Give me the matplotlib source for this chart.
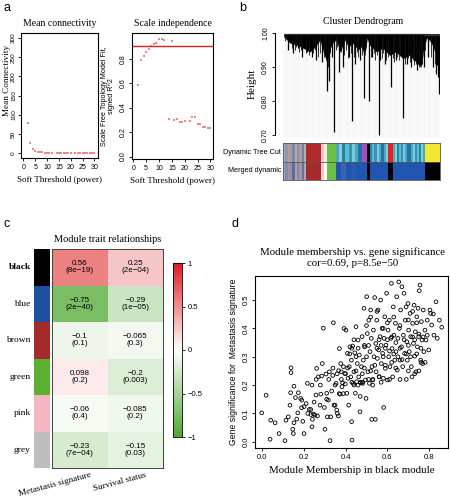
import numpy as np
import matplotlib
matplotlib.use('Agg')
import matplotlib.pyplot as plt
from matplotlib.colors import LinearSegmentedColormap
import matplotlib.transforms as mtransforms

plt.rcParams['font.family'] = ['Liberation Sans', 'DejaVu Sans']
SERIF = ['Liberation Serif', 'DejaVu Serif']

# ---- a: soft threshold ----
powers = [2, 3, 4, 5, 6, 7, 8, 9, 10, 11, 12, 14, 15, 16, 17, 18, 19, 20,
          22, 23, 24, 25, 26, 27, 28, 29, 30]
sft_r2 = [0.585, 0.79, 0.82, 0.855, 0.88, 0.90, 0.92, 0.93, 0.965, 0.96, 0.95,
          0.31, 0.945, 0.30, 0.31, 0.28, 0.28, 0.29, 0.29, 0.325, 0.325,
          0.27, 0.27, 0.24, 0.24, 0.235, 0.235]
mean_k = [78, 26, 11, 6, 4, 3, 2.5, 2, 1.8, 1.6, 1.5, 1.3, 1.2, 1.1, 1.0, 1.0,
          0.9, 0.9, 0.8, 0.8, 0.7, 0.7, 0.7, 0.6, 0.6, 0.6, 0.5]
r2_cut = 0.9

# ---- b: dendrogram (leaf position as fraction of width) ----
mass_x = [0.0, 0.021, 0.043, 0.085, 0.128, 0.17, 0.202, 0.234, 0.255, 0.277,
          0.298, 0.319, 0.34, 0.362, 0.394, 0.415, 0.447, 0.479, 0.5, 0.521,
          0.536, 0.553, 0.596, 0.638, 0.681, 0.723, 0.766, 0.809, 0.851,
          0.883, 0.904, 0.919, 0.936, 0.957, 0.979, 1.0]
mass_depth = [0.99, 0.98, 0.97, 0.965, 0.955, 0.945, 0.96, 0.98, 0.945, 0.915,
              0.955, 0.975, 0.98, 0.945, 0.98, 0.96, 0.97, 0.95, 0.96,
              0.935, 0.985, 0.965, 0.945, 0.955, 0.935, 0.945, 0.925, 0.935,
              0.915, 0.90, 0.965, 0.985, 0.98, 0.965, 0.935, 0.915]
drop_x = [0.277, 0.294, 0.326, 0.355, 0.436, 0.517, 0.549, 0.613, 0.689,
          0.766, 0.996, 0.03, 0.06, 0.09, 0.12, 0.15, 0.18, 0.21, 0.245,
          0.31, 0.38, 0.42, 0.46, 0.49, 0.57, 0.62, 0.65, 0.72, 0.79, 0.82,
          0.86, 0.90, 0.93, 0.96, 0.98, 0.985, 0.99]
drop_h = [0.83, 0.86, 0.71, 0.885, 0.74, 0.81, 0.80, 0.70, 0.84, 0.75, 0.82,
          0.95, 0.94, 0.955, 0.93, 0.945, 0.93, 0.92, 0.915, 0.93, 0.90,
          0.93, 0.91, 0.92, 0.93, 0.92, 0.91, 0.92, 0.91, 0.90, 0.89, 0.90,
          0.93, 0.90, 0.88, 0.905, 0.87]
twig_x = [0.01, 0.025, 0.05, 0.07, 0.08, 0.1, 0.11, 0.14, 0.16, 0.19, 0.2,
          0.22, 0.23, 0.26, 0.27, 0.285, 0.3, 0.335, 0.345, 0.37, 0.39, 0.4,
          0.41, 0.43, 0.45, 0.47, 0.48, 0.505, 0.53, 0.56, 0.58, 0.59, 0.6,
          0.61, 0.63, 0.64, 0.66, 0.67, 0.7, 0.71, 0.73, 0.74, 0.75, 0.78,
          0.8, 0.81, 0.83, 0.84, 0.85, 0.87, 0.88, 0.89, 0.91, 0.95, 0.97]
twig_h = [0.975, 0.96, 0.955, 0.95, 0.96, 0.945, 0.95, 0.94, 0.935, 0.94,
          0.95, 0.93, 0.94, 0.93, 0.95, 0.9, 0.94, 0.95, 0.96, 0.945, 0.935,
          0.95, 0.925, 0.94, 0.93, 0.945, 0.93, 0.935, 0.96, 0.93, 0.94,
          0.92, 0.935, 0.93, 0.925, 0.94, 0.92, 0.93, 0.925, 0.915, 0.93,
          0.92, 0.935, 0.91, 0.925, 0.915, 0.92, 0.905, 0.91, 0.9, 0.92,
          0.91, 0.95, 0.93, 0.91]

turq = ['#4aa8c0', '#7fd0d0', '#2a80b0', '#5ac0c8', '#3a90b8', '#80c8d8',
        '#40b0c0', '#2a70a8']
mixed = ['#a8a8b8', '#8f96b0', '#b89a8a', '#9a9aa8', '#7b86a8', '#c0a898',
         '#9090a0', '#a0a0b0', '#8a7a90', '#b0b0b8']
mixed2 = ['#a0a4b8', '#7f8ab0', '#a89090', '#8a90b0', '#5b6aa0', '#b0a0a0',
          '#8088a8', '#9898b0', '#7a6a88', '#a8a8b8']
dyn_regions = [(0.0, 0.149, mixed), (0.149, 0.245, ['#b02a2a']),
               (0.245, 0.283, ['#f0c4c8', '#f4eaea']), (0.283, 0.336, ['#6cc04a']),
               (0.336, 0.5, turq), (0.5, 0.532, ['#a050c0']),
               (0.532, 0.553, ['#000000']), (0.553, 0.67, turq[2:] + turq[:2]),
               (0.67, 0.702, ['#e82020']), (0.702, 0.904, turq + turq[::-1]),
               (0.904, 1.0, ['#f2e832'])]
merged_regions = [(0.0, 0.149, mixed2), (0.149, 0.245, ['#a52a2a']),
                  (0.245, 0.283, ['#f0c4c8', '#ffffff']), (0.283, 0.336, ['#6cc04a']),
                  (0.336, 0.5, ['#2255b0', '#3a64b0', '#2255b0', '#2a5ab0', '#2255b0']),
                  (0.5, 0.532, ['#2255b0']), (0.532, 0.553, ['#000000']),
                  (0.553, 0.67, ['#2255b0']), (0.67, 0.702, ['#000000']),
                  (0.702, 0.904, ['#2255b0']), (0.904, 1.0, ['#000000'])]

# ---- c: module-trait heatmap ----
modules = ['black', 'blue', 'brown', 'green', 'pink', 'grey']
module_cols = ['#000000', '#1f4f9f', '#a52a2a', '#5cb030', '#f4b6c2', '#bebebe']
traits = ['Metastasis signature', 'Survival status']
cor_vals = [[0.56, 0.25], [-0.75, -0.29], [-0.1, -0.065], [0.098, -0.2],
            [-0.06, -0.085], [-0.23, -0.15]]
cor_labels = [['0.56', '0.25'], ['−0.75', '−0.29'], ['−0.1', '−0.065'],
              ['0.098', '−0.2'], ['−0.06', '−0.085'], ['−0.23', '−0.15']]
p_labels = [['8e−19', '2e−04'], ['2e−40', '1e−05'], ['0.1', '0.3'],
            ['0.2', '0.003'], ['0.4', '0.2'], ['7e−04', '0.03']]

# ---- d: module membership vs gene significance ----
mm = [0.0, 0.021, 0.043, 0.04, 0.064, 0.083, 0.111, 0.116, 0.127, 0.135, 0.138,
      0.14, 0.14, 0.148, 0.151, 0.154, 0.154, 0.161, 0.167, 0.172, 0.175, 0.186,
      0.191, 0.196, 0.202, 0.202, 0.212, 0.218, 0.227, 0.234, 0.235, 0.24,
      0.242, 0.247, 0.254, 0.259, 0.262, 0.266, 0.27, 0.278, 0.282, 0.286,
      0.289, 0.294, 0.299, 0.302, 0.307, 0.31, 0.313, 0.318, 0.323, 0.326,
      0.329, 0.334, 0.339, 0.342, 0.345, 0.35, 0.355, 0.358, 0.361, 0.366,
      0.367, 0.371, 0.374, 0.377, 0.38, 0.383, 0.386, 0.39, 0.393, 0.396,
      0.399, 0.402, 0.406, 0.409, 0.412, 0.415, 0.418, 0.421, 0.425, 0.428,
      0.429, 0.431, 0.434, 0.437, 0.44, 0.444, 0.447, 0.45, 0.453, 0.456,
      0.46, 0.463, 0.466, 0.469, 0.472, 0.476, 0.479, 0.482, 0.485, 0.488,
      0.491, 0.495, 0.498, 0.501, 0.504, 0.507, 0.511, 0.514, 0.517, 0.52,
      0.523, 0.525, 0.526, 0.53, 0.533, 0.536, 0.539, 0.542, 0.544, 0.546,
      0.549, 0.552, 0.555, 0.558, 0.561, 0.565, 0.568, 0.571, 0.574, 0.577,
      0.581, 0.582, 0.584, 0.587, 0.59, 0.593, 0.596, 0.6, 0.603, 0.606,
      0.609, 0.612, 0.616, 0.619, 0.622, 0.625, 0.628, 0.631, 0.635, 0.638,
      0.641, 0.644, 0.647, 0.65, 0.654, 0.657, 0.66, 0.663, 0.667, 0.669,
      0.673, 0.676, 0.679, 0.682, 0.685, 0.689, 0.692, 0.695, 0.698, 0.701,
      0.704, 0.708, 0.711, 0.714, 0.717, 0.72, 0.724, 0.727, 0.73, 0.733,
      0.736, 0.74, 0.743, 0.746, 0.749, 0.752, 0.755, 0.759, 0.762, 0.765,
      0.768, 0.771, 0.774, 0.779, 0.784, 0.79, 0.797, 0.803, 0.811, 0.819,
      0.822, 0.832, 0.838, 0.848, 0.859, 0.806, 0.79,
      0.41, 0.43, 0.45, 0.46, 0.47, 0.48, 0.49, 0.5, 0.51, 0.52, 0.53, 0.54,
      0.55, 0.56, 0.57, 0.58, 0.59, 0.6, 0.61, 0.62, 0.63, 0.64, 0.65, 0.66,
      0.67, 0.68, 0.69, 0.7, 0.71, 0.72, 0.73, 0.74, 0.75, 0.76, 0.77, 0.78,
      0.5, 0.52, 0.55, 0.58, 0.6, 0.63, 0.66, 0.7, 0.72, 0.74, 0.46, 0.44,
      0.42, 0.4, 0.38, 0.36, 0.35, 0.37, 0.39, 0.47, 0.44, 0.48, 0.53, 0.56,
      0.61, 0.64, 0.66, 0.7, 0.73, 0.69, 0.75, 0.76, 0.62, 0.57, 0.59, 0.51,
      0.49, 0.45, 0.43, 0.34, 0.32, 0.31, 0.28, 0.26, 0.24, 0.25, 0.22, 0.19]
gs = [0.102, 0.164, 0.076, 0.009, 0.067, 0.029, 0.004, 0.076, 0.088, 0.129,
      0.173, 0.261, 0.244, 0.044, 0.029, 0.067, 0.196, 0.156, 0.08, 0.102,
      0.173, 0.153, 0.147, 0.072, 0.124, 0.029, 0.135, 0.206, 0.114, 0.114,
      0.096, 0.053, 0.079, 0.098, 0.094, 0.165, 0.259, 0.091, 0.229, 0.129,
      0.168, 0.232, 0.276, 0.401, 0.121, 0.044, 0.239, 0.171, 0.088, 0.147,
      0.247, 0.004, 0.088, 0.179, 0.234, 0.42, 0.129, 0.129, 0.206, 0.112,
      0.1, 0.091, 0.251, 0.329, 0.168, 0.276, 0.247, 0.194, 0.208, 0.265,
      0.4, 0.241, 0.204, 0.394, 0.171, 0.312, 0.224, 0.129, 0.265, 0.335,
      0.229, 0.288, 0.071, 0.006, 0.338, 0.206, 0.247, 0.314, 0.171, 0.406,
      0.212, 0.276, 0.359, 0.229, 0.306, 0.106, 0.208, 0.265, 0.371, 0.206,
      0.288, 0.471, 0.335, 0.218, 0.153, 0.512, 0.382, 0.247, 0.429, 0.206,
      0.318, 0.465, 0.365, 0.079, 0.265, 0.218, 0.394, 0.3, 0.509, 0.079,
      0.347, 0.247, 0.429, 0.294, 0.465, 0.324, 0.229, 0.371, 0.5, 0.276,
      0.4, 0.312, 0.224, 0.121, 0.365, 0.441, 0.259, 0.341, 0.524, 0.218,
      0.394, 0.3, 0.429, 0.265, 0.365, 0.559, 0.329, 0.229, 0.476, 0.376,
      0.288, 0.418, 0.318, 0.512, 0.253, 0.365, 0.564, 0.4, 0.288, 0.465,
      0.335, 0.547, 0.265, 0.376, 0.524, 0.312, 0.429, 0.476, 0.353, 0.288,
      0.488, 0.394, 0.318, 0.453, 0.371, 0.265, 0.229, 0.418, 0.347, 0.482,
      0.302, 0.388, 0.247, 0.441, 0.335, 0.471, 0.371, 0.533, 0.553, 0.288,
      0.424, 0.359, 0.276, 0.465, 0.318, 0.394, 0.359, 0.429, 0.324, 0.465,
      0.412, 0.451, 0.376, 0.494, 0.365, 0.429, 0.404, 0.453, 0.376,
      0.26, 0.21, 0.25, 0.2, 0.21, 0.21, 0.26, 0.3, 0.34, 0.25, 0.22, 0.27,
      0.33, 0.36, 0.21, 0.3, 0.33, 0.36, 0.32, 0.28, 0.31, 0.35, 0.3, 0.33,
      0.29, 0.36, 0.31, 0.34, 0.3, 0.37, 0.36, 0.31, 0.38, 0.33, 0.37, 0.28,
      0.41, 0.44, 0.46, 0.4, 0.42, 0.44, 0.41, 0.43, 0.46, 0.42, 0.33, 0.36,
      0.31, 0.24, 0.22, 0.24, 0.2, 0.17, 0.17, 0.16, 0.2, 0.24, 0.2, 0.23,
      0.22, 0.26, 0.22, 0.25, 0.24, 0.22, 0.25, 0.28, 0.37, 0.34, 0.27, 0.22,
      0.34, 0.3, 0.33, 0.26, 0.22, 0.15, 0.2, 0.22, 0.2, 0.14, 0.1, 0.12]

W, H = 450, 500


def box(x0, y0, x1, y1):
    return [x0 / W, 1 - y1 / H, (x1 - x0) / W, (y1 - y0) / H]


def ptext(px, py, s, **kw):
    fig.text(px / W, 1 - py / H, s, **kw)


def r_axes(ax):
    for sp in ax.spines.values():
        sp.set_linewidth(0.8)
    ax.tick_params(direction='out', length=2.5, width=0.6, labelsize=5, pad=1.5)
    for lab in ax.get_yticklabels():
        lab.set_rotation(90)
        lab.set_va('center')


fig = plt.figure(figsize=(4.5, 5), dpi=100)

# panel letters
ptext(4, 8, 'a', fontsize=9, va='center')
ptext(239, 8, 'b', fontsize=9, va='center')
ptext(4, 224, 'c', fontsize=9, va='center')
ptext(232, 224, 'd', fontsize=9, va='center')

# ---- a left ----
ax1 = fig.add_axes(box(21, 33, 98, 158))
ax1.scatter(powers, mean_k, s=2.5, marker='s', color='#ec8a8a', lw=0)
ax1.set_xlim(-1, 31.5)
ax1.set_ylim(-12, 313)
ax1.set_xticks([0, 5, 10, 15, 20, 25, 30])
ax1.set_yticks([0, 50, 100, 150, 200, 250, 300])
r_axes(ax1)
ax1.tick_params(axis='y', labelsize=4.6, pad=1)
ax1.set_title('Mean connectivity', family=SERIF, fontsize=7, pad=5)
ax1.set_xlabel('Soft Threshold (power)', family=SERIF, fontsize=6.5, labelpad=4)
ax1.set_ylabel('Mean Connectivity', family=SERIF, fontsize=6.6)
ax1.yaxis.set_label_coords(-0.135, 0.62)

# ---- a right ----
ax2 = fig.add_axes(box(132, 33, 213, 159))
ax2.scatter(powers, sft_r2, s=2.5, marker='s', color='#ec8a8a', lw=0)
ax2.axhline(r2_cut, color='#e02020', lw=1)
ax2.set_xlim(-0.5, 31)
ax2.set_ylim(-0.02, 1.01)
ax2.set_xticks([0, 5, 10, 15, 20, 25, 30])
ax2.set_yticks([0.0, 0.2, 0.4, 0.6, 0.8])
ax2.set_yticklabels(['0.0', '0.2', '0.4', '0.6', '0.8'])
r_axes(ax2)
ax2.set_title('Scale independence', family=SERIF, fontsize=7, pad=5)
ax2.set_xlabel('Soft Threshold (power)', family=SERIF, fontsize=6.5, labelpad=4)
ax2.set_ylabel('Scale Free Topology Model Fit,\nsigned R^2', fontsize=5.2,
               linespacing=1.0, labelpad=3)

# ---- b dendrogram ----
axd = fig.add_axes(box(283, 29.6, 440, 138.4))
axd.vlines(np.linspace(0, 1, 90), 0.69, 0.99, colors='#d4d4d4',
           linestyles=(0, (1, 1)), lw=0.35, zorder=0)
axd.fill_between(mass_x, mass_depth, 0.998, color='black', lw=0.3,
                 edgecolor='#333333', zorder=2)
axd.vlines(twig_x, twig_h, 0.99, colors='#111111', lw=0.6, zorder=2)
axd.vlines(drop_x, drop_h, 0.99, colors='black', lw=0.9, zorder=3)
axd.hlines(0.998, 0.0, 0.93, colors='#333333', lw=0.9, zorder=3)
axd.hlines(0.995, 0.9, 0.99, colors='#333333', lw=0.9, zorder=3)
axd.set_xlim(-0.005, 1.005)
axd.set_ylim(0.69, 1.01)
for s in ['top', 'right', 'bottom']:
    axd.spines[s].set_visible(False)
axd.spines['left'].set_position(('outward', 6))
axd.spines['left'].set_bounds(0.7, 1.0)
axd.spines['left'].set_linewidth(0.8)
axd.set_xticks([])
axd.set_yticks([0.7, 0.8, 0.9, 1.0])
axd.set_yticklabels(['0.70', '0.80', '0.90', '1.00'])
axd.tick_params(direction='out', length=2.5, width=0.6, labelsize=5, pad=1.5)
for lab in axd.get_yticklabels():
    lab.set_rotation(90)
    lab.set_va('center')
axd.set_ylabel('Height', family=SERIF, fontsize=8, labelpad=4)
ptext(363, 22, 'Cluster Dendrogram', family=SERIF, fontsize=7, ha='center', va='center')

axc = fig.add_axes(box(283, 143, 440, 180))
for row, regions in [(1, dyn_regions), (0, merged_regions)]:
    for x0, x1, cols in regions:
        w = (x1 - x0) / len(cols)
        for k, c in enumerate(cols):
            axc.barh(row, w, left=x0 + k * w, height=1, align='edge', color=c, lw=0)
axc.axhline(1, color='#555555', lw=0.6)
axc.set_xlim(0, 1)
axc.set_ylim(0, 2)
axc.set_xticks([])
axc.set_yticks([])
for sp in axc.spines.values():
    sp.set_linewidth(0.6)
    sp.set_color('#555555')
axc.text(-0.012, 1.5, 'Dynamic Tree Cut', ha='right', va='center', fontsize=5.2)
axc.text(-0.012, 0.5, 'Merged dynamic', ha='right', va='center', fontsize=5.2)

# ---- c heatmap ----
cmap = LinearSegmentedColormap.from_list('gwr', ['#4ea72e', '#ffffff', '#dc1e1e'])
axm = fig.add_axes(box(34, 249, 50, 468))
for i, c in enumerate(module_cols):
    axm.barh(i, 1, left=0, height=1, align='edge', color=c, lw=0)
axm.set_xlim(0, 1)
axm.set_ylim(len(modules), 0)
axm.set_xticks([])
axm.set_yticks([])
for sp in axm.spines.values():
    sp.set_visible(False)
for i, m in enumerate(modules):
    axm.text(-0.2, i + 0.5, m, family=SERIF, fontsize=6.8, ha='right', va='center',
             fontweight='bold' if m == 'black' else 'normal')

axh = fig.add_axes(box(52, 249, 163, 468))
mesh = axh.pcolormesh(np.array(cor_vals), cmap=cmap, vmin=-1, vmax=1)
axh.set_ylim(len(modules), 0)
axh.set_xticks([])
axh.set_yticks([])
for sp in axh.spines.values():
    sp.set_linewidth(0.7)
    sp.set_color('#444444')
for i in range(len(modules)):
    for j in range(len(traits)):
        axh.text(j + 0.5, i + 0.5, cor_labels[i][j] + '\n(' + p_labels[i][j] + ')',
                 ha='center', va='center', fontsize=5.8, linespacing=0.95)
tr = mtransforms.blended_transform_factory(axh.transData, axh.transAxes)
for j, t in enumerate(traits):
    axh.text(j + 0.68, -0.012, t, transform=tr, family=SERIF, fontsize=6.6,
             ha='right', va='top', rotation=15, rotation_mode='anchor')
ptext(108, 240, 'Module trait relationships', family=SERIF, fontsize=7.5,
      ha='center', va='center')

axcb = fig.add_axes(box(173, 263, 182, 437))
cb = fig.colorbar(mesh, cax=axcb, ticks=[1, 0.5, 0, -0.5, -1])
cb.ax.set_yticklabels(['1', '0.5', '0', '−0.5', '−1'])
cb.ax.tick_params(direction='out', length=2.5, width=0.6, labelsize=5.5, pad=1.5)
cb.outline.set_linewidth(0.6)

# ---- d scatter ----
axs = fig.add_axes(box(255, 276, 448, 448))
axs.scatter(mm, gs, s=7, facecolors='none', edgecolors='black', linewidths=0.6)
axs.set_xlim(-0.032, 0.889)
axs.set_ylim(-0.022, 0.585)
axs.set_xticks([0.0, 0.2, 0.4, 0.6, 0.8])
axs.set_xticklabels(['0.0', '0.2', '0.4', '0.6', '0.8'])
axs.set_yticks([0.0, 0.1, 0.2, 0.3, 0.4, 0.5])
axs.set_yticklabels(['0.0', '0.1', '0.2', '0.3', '0.4', '0.5'])
r_axes(axs)
axs.tick_params(labelsize=5.5)
axs.set_xlabel('Module Membership in black module', family=SERIF, fontsize=7.8,
               labelpad=4)
axs.set_ylabel('Gene significance for  Metastasis signature', fontsize=6.2,
               labelpad=3)
ptext(353, 252, 'Module membership vs. gene significance', family=SERIF,
      fontsize=7.8, ha='center', va='center')
ptext(353, 263, 'cor=0.69, p=8.5e−50', family=SERIF, fontsize=7.8,
      ha='center', va='center')

fig.savefig('out.png', dpi=100)
